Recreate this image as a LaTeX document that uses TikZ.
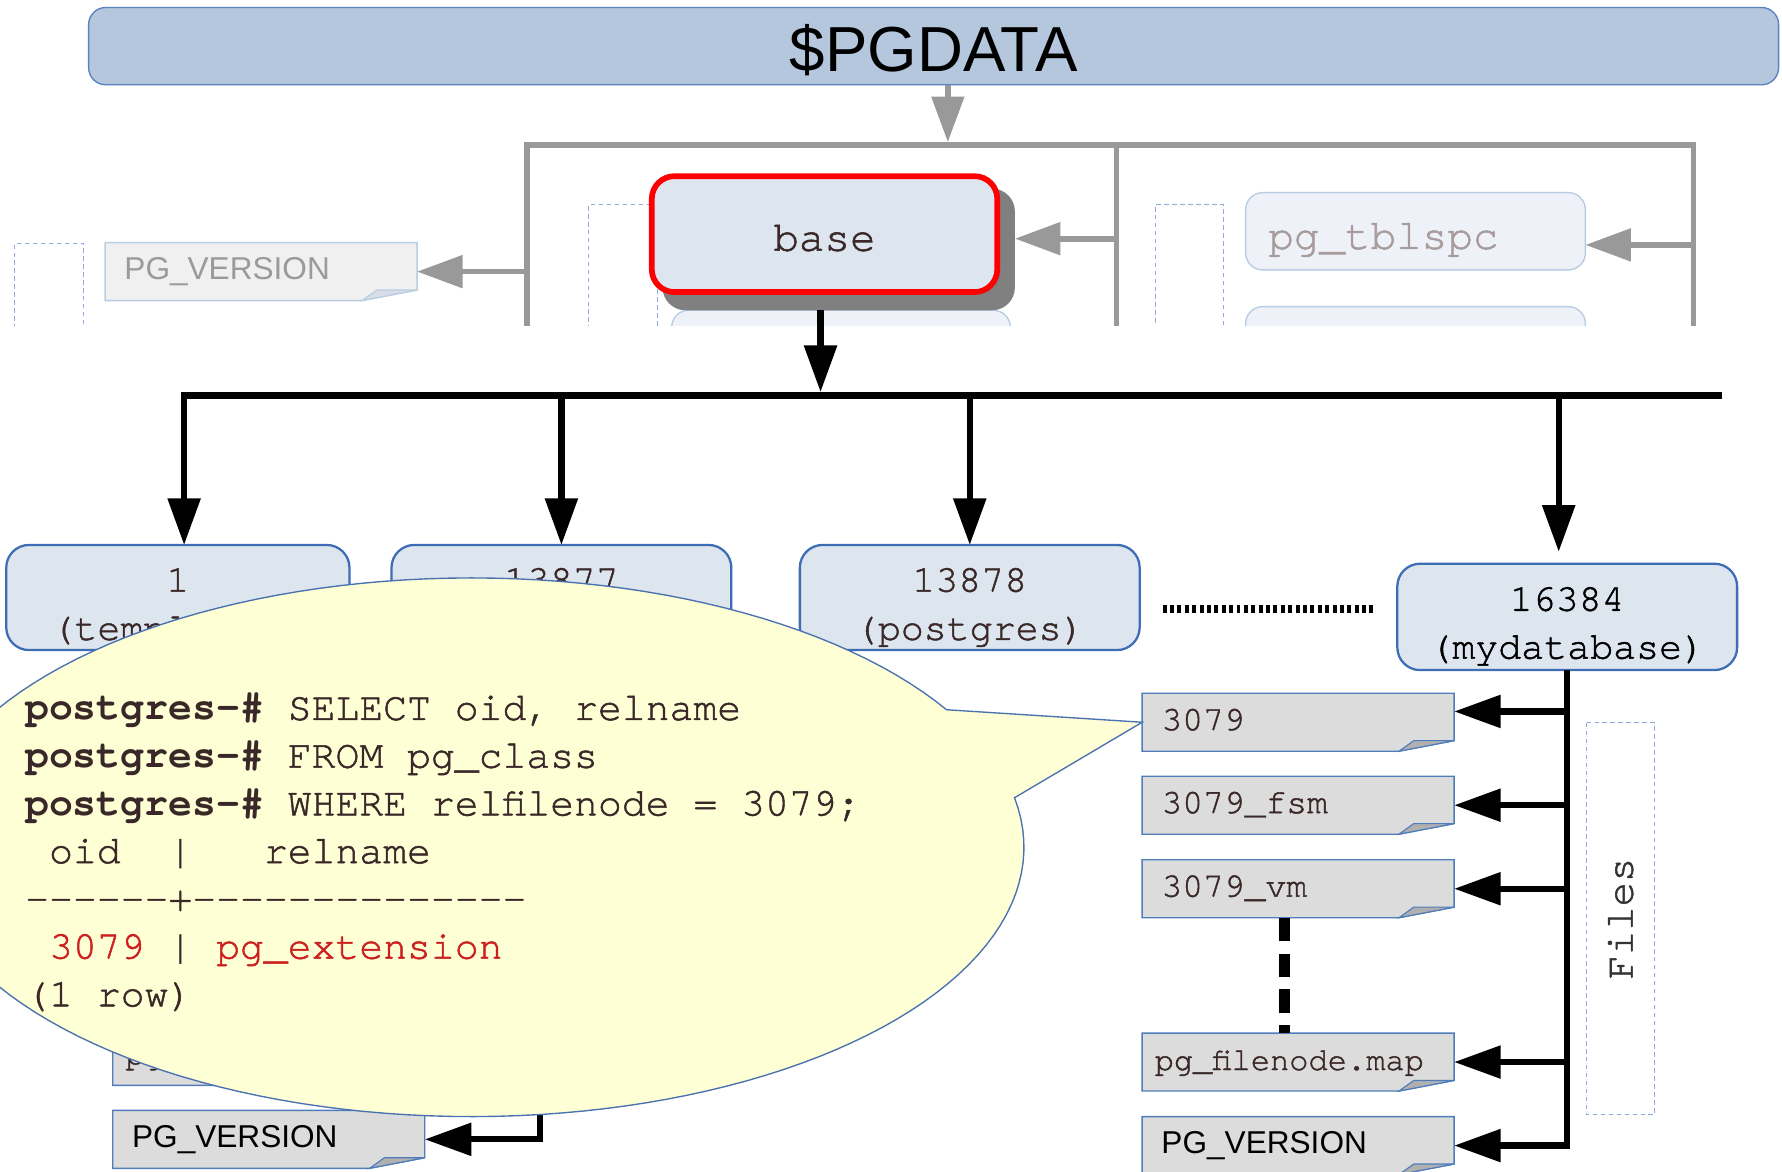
\documentclass[tikz,border=0pt]{standalone}
\usepackage{fontspec}
\usetikzlibrary{arrows.meta}

\newfontfamily\sansface{Liberation Sans}
\newfontfamily\courface{texgyrecursor}[Extension=.otf, UprightFont=*-regular, BoldFont=*-bold,
  UprightFeatures={FakeBold=1.3}]

\definecolor{barfill}{HTML}{B4C7DC}
\definecolor{baredge}{HTML}{5A82BE}
\definecolor{boxfill}{HTML}{DDE5EF}
\definecolor{boxedge}{HTML}{3D6DB5}
\definecolor{palefill}{HTML}{EEF2F8}
\definecolor{paleedge}{HTML}{B8CCE4}
\definecolor{linegray}{HTML}{999999}
\definecolor{shadowgray}{HTML}{808080}
\definecolor{paperfill}{HTML}{DCDCDC}
\definecolor{paperedge}{HTML}{4F7CBA}
\definecolor{paperfoldc}{HTML}{B0B0B0}
\definecolor{palepaper}{HTML}{F0F0F0}
\definecolor{palefoldc}{HTML}{D8DEE8}
\definecolor{dashblue}{HTML}{8EAADB}
\definecolor{inkbrown}{HTML}{3A2828}
\definecolor{bubblefill}{HTML}{FFFFD5}
\definecolor{bubbleedge}{HTML}{4A72B0}
\definecolor{resultred}{HTML}{CC1F1F}
\definecolor{palegray}{HTML}{9A9A9A}
\definecolor{palebrown}{HTML}{A89B9B}
\definecolor{darktext}{HTML}{333333}

\newcommand\courier[1]{\courface\fontsize{#1}{#1}\selectfont}
\newcommand\qsp{\hphantom{0}}

% sheet of paper with a folded lower right corner, centred at (#1,#2)
\newcommand\notepaper[3]{%
  \begin{scope}[shift={(#1,#2)}]
    \draw[#3] (-137.25,-25.5) -- (137.25,-25.5) -- (137.25,16.2) -- (88.75,25.5) -- (-137.25,25.5) -- cycle;
    \draw[#3fold] (88.75,25.5) -- (101.75,16.2) -- (137.25,16.2) -- cycle;
  \end{scope}}

\begin{document}
\begin{tikzpicture}[x=1pt, y=-1pt,
  gline/.style={draw=linegray, line width=5pt},
  garrow/.style={gline, -{Triangle[length=40pt,width=28pt]}},
  bline/.style={draw=black, line width=5.5pt},
  barrow/.style={bline, -{Triangle[length=41pt,width=28pt]}},
  dbbox/.style={draw=boxedge, fill=boxfill, line width=2pt, rounded corners=20pt,
    minimum width=299pt, minimum height=92.5pt, inner sep=0pt, outer sep=0pt},
  dbtext/.style={anchor=base, inner sep=0pt, text=inkbrown, font=\courier{33.7}},
  palebox/.style={draw=paleedge, fill=palefill, line width=1.2pt, rounded corners=15pt,
    inner sep=0pt, outer sep=0pt},
  paper/.style={draw=paperedge, fill=paperfill, line width=1.2pt},
  paperfold/.style={draw=paperedge, fill=paperfoldc, line width=1pt},
  pale/.style={draw=paleedge, fill=palepaper, line width=1.2pt},
  palefold/.style={draw=paleedge, fill=palefoldc, line width=1pt},
  filename/.style={minimum height=51pt, inner ysep=0pt, inner xsep=17pt, text width=240.5pt,
    align=left, text height=14pt, text depth=0pt, outer sep=0pt, text=inkbrown,
    font=\courier{30.5}},
  versiontext/.style={filename, text=black, font=\sansface\fontsize{27.8}{30}\selectfont},
  dashbox/.style={draw=dashblue, line width=1pt, dash pattern=on 4pt off 3pt, inner sep=0pt},
  qline/.style={anchor=base west, inner sep=0pt, text=inkbrown, font=\courier{35}},
]
\useasboundingbox (0,0) rectangle (1568,1031);

% ---------- upper part: $PGDATA and its sub-directories ----------
\begin{scope}
  \clip (0,0) rectangle (1568,286);
  \node[dashbox, minimum width=60.4pt, minimum height=200pt, anchor=north west] (d0) at (12.6,213.5) {};
  \node[dashbox, minimum width=60.4pt, minimum height=200pt, anchor=north west] (d1) at (517.6,179.6) {};
  \node[dashbox, minimum width=60pt, minimum height=200pt, anchor=north west] (d2) at (1016,179.6) {};

  \node[palebox, anchor=north west, minimum width=298pt, minimum height=80pt] (base2) at (591,273) {};
  \node[fill=shadowgray, rounded corners=20pt, minimum width=310pt, minimum height=107pt,
        inner sep=0pt, outer sep=0pt] (bshadow) at (738,219.5) {};
  \node[draw=red, line width=5pt, fill=boxfill, rounded corners=20pt, minimum width=304pt,
        minimum height=102pt, inner sep=0pt, outer sep=0pt, text height=29.2pt, text depth=0pt,
        text=inkbrown, font=\courier{37.5}] (base) at (725.5,206) {base};

  \node[palebox, minimum width=299pt, minimum height=68pt, inner xsep=20pt, text width=259pt,
        align=left, text height=31pt, text depth=0pt, text=palebrown, font=\courier{37.5}]
        (tbl) at (1245.5,203.5) {pg\_tblspc};
  \node[palebox, anchor=north west, minimum width=299pt, minimum height=68pt] (tbl2) at (1096,269.8) {};

  \notepaper{229.75}{239}{pale}
  \node[versiontext, text=palegray] (pgv0) at (229.75,239) {PG\_VERSION};

  \node[draw=baredge, fill=barfill, line width=1.2pt, rounded corners=15pt, minimum width=1487pt,
        minimum height=68pt, inner sep=0pt, outer sep=0pt, text height=44.8pt, text depth=0pt,
        font=\sansface\fontsize{56}{60}\selectfont] (pgdata) at (821.5,40.6) {\$PGDATA};

  \coordinate (gL) at (463.5,127.5);
  \coordinate (gM) at (982.5,127.5);
  \coordinate (gR) at (1490,127.5);
  \coordinate (gJ) at (834,125);
  \draw[gline] (463.5,300) -- (gL) -- (gR) -- (1490,300);
  \draw[gline] (gM) -- (982.5,300);
  \draw[garrow] (pgdata.south -| gJ) -- (gJ);
  \draw[garrow] (gL |- pgv0.east) -- (pgv0.east);
  \path ([yshift=9.5pt]bshadow.east) coordinate (bIn);
  \draw[garrow] (gM |- bIn) -- (bIn);
  \path ([yshift=-12pt]tbl.east) coordinate (tIn);
  \draw[garrow] (gR |- tIn) -- (tIn);
\end{scope}

% ---------- database directories under base ----------
\node[dbbox, minimum width=302pt] (db1) at (156.5,525.75) {};
\node[dbtext] (db1n) at (156.5,520.6) {1};
\node[dbtext] (db1d) at (156.5,563) {(template1)};
\node[dbbox] (db2) at (494,525.75) {};
\node[dbtext] (db2n) at (494,520.6) {13877};
\node[dbbox] (db3) at (853.3,525.75) {};
\node[dbtext] (db3n) at (853.3,520.6) {13878};
\node[dbtext] (db3d) at (853.3,563) {(postgres)};
\node[dbbox, minimum height=93.6pt] (db4) at (1379,542.8) {};
\node[dbtext, text=black] (db4n) at (1379,537.4) {16384};
\node[dbtext, text=black] (db4d) at (1379,579.5) {(mydatabase)};

\coordinate (bOut) at (722,273);
\coordinate (busJ) at (722,345);
\coordinate (busL) at (162,348);
\coordinate (busR) at (1515,348);
\coordinate (d4in) at (1371.5,485.5);
\draw[barrow] (bOut) -- (busJ);
\draw[bline] (159.25,348) -- (busR);
\draw[barrow] (busL) -- (busL |- db1.north);
\draw[barrow] (db2.north |- busL) -- (db2.north);
\draw[barrow] (db3.north |- busL) -- (db3.north);
\draw[barrow] (d4in |- busL) -- (d4in);

\coordinate (dotA) at (1023,536);
\coordinate (dotB) at (1210,536);
\draw[line width=7pt, dash pattern=on 3.5pt off 3pt] (dotA) -- (dotB);

% ---------- files of database 16384 ----------
\notepaper{1142.25}{635.5}{paper}
\node[filename] (f3079) at (1142.25,635.5) {3079};
\notepaper{1142.25}{708.5}{paper}
\node[filename] (ffsm) at (1142.25,708.5) {3079\_fsm};
\notepaper{1142.25}{782}{paper}
\node[filename] (fvm) at (1142.25,782) {3079\_vm};
\notepaper{1142.25}{934.5}{paper}
\node[filename, inner xsep=11pt, text width=252.5pt, font=\courier{28.2}] (fmap) at (1142.25,934.5) {pg\_filenode.map};
\notepaper{1142.25}{1008}{paper}
\node[versiontext] (fver) at (1142.25,1008) {PG\_VERSION};

\path ([yshift=9.5pt]f3079.east) coordinate (a3079);
\draw[barrow] (db4.south) |- (fver.east);
\draw[barrow] (db4.south |- a3079) -- (a3079);
\draw[barrow] (db4.south |- ffsm.east) -- (ffsm.east);
\draw[barrow] (db4.south |- fvm.east) -- (fvm.east);
\draw[barrow] (db4.south |- fmap.east) -- (fmap.east);
\draw[line width=10pt, dash pattern=on 20.5pt off 11pt] ([xshift=-12.25pt]fvm.south) -- ([xshift=-12.25pt]fmap.north);

\node[dashbox, rotate=90, minimum width=344.5pt, minimum height=60pt, text=darktext,
      font=\courier{35.7}] (files) at (1426,808.25) {Files};

% ---------- files of database 13877 ----------
\node[dashbox, minimum width=60pt, minimum height=335pt] (lfiles) at (527,803.5) {};
\notepaper{236.5}{929.5}{paper}
\node[filename, inner xsep=11pt, text width=252.5pt, font=\courier{28.2}] (lmap) at (236.5,929.5) {pg\_filenode.map};
\notepaper{236.5}{1002.5}{paper}
\node[versiontext] (lver) at (236.5,1002.5) {PG\_VERSION};
\coordinate (lt) at (475,572);
\draw[barrow] (lt) |- (lver.east);
\draw[barrow] (lt |- lmap.east) -- (lmap.east);

% ---------- callout with the catalog query: an ellipse with a pointer ----------
\draw[draw=bubbleedge, fill=bubblefill, line width=1.2pt]
  plot[domain=-10.6:329.3, samples=150, variable=\t] ({415+486*cos(\t)}, {745.5+237*sin(\t)})
  -- (f3079.west) -- cycle;

\node[qline] (q1) at (22,633.5) {\textbf{postgres-\#} SELECT oid, relname};
\node[qline] (q2) at (22,675.5) {\textbf{postgres-\#} FROM pg\_class};
\node[qline] (q3) at (22,717.5) {\textbf{postgres-\#} WHERE relfilenode = 3079;};
\node[qline] (q4) at (22,759.5) {\qsp oid\qsp\qsp|\qsp\qsp\qsp relname};
\node[qline] (q5) at (22,801.5) {-{}-{}-{}-{}-{}-+-{}-{}-{}-{}-{}-{}-{}-{}-{}-{}-{}-{}-{}-};
\node[qline] (q6) at (22,843.5) {\qsp\textcolor{resultred}{3079}\qsp|\qsp\textcolor{resultred}{pg\_extension}};
\node[qline] (q7) at (22,885.5) {(1 row)};
\end{tikzpicture}
\end{document}
